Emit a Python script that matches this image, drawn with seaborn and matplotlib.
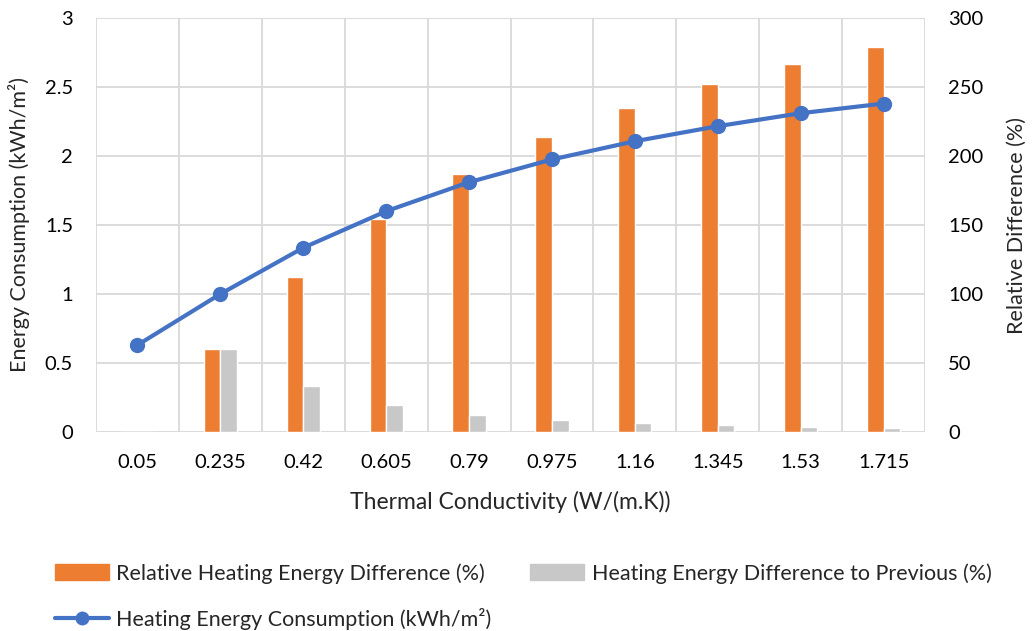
import numpy as np
import pandas as pd
import seaborn as sns
import matplotlib
matplotlib.use("Agg")
import matplotlib.pyplot as plt
from matplotlib.patches import Patch
from matplotlib.lines import Line2D

# data
conductivity = ["0.05", "0.235", "0.42", "0.605", "0.79", "0.975", "1.16", "1.345", "1.53", "1.715"]
energy = [0.63, 1.00, 1.335, 1.60, 1.81, 1.975, 2.107, 2.216, 2.31, 2.38]
relative_diff = [0, 60, 112.5, 154.7, 187, 214, 235, 252.5, 267, 279]
diff_prev = [0, 60, 33, 19.6, 12.3, 8.7, 6.3, 4.8, 3.9, 2.9]

rel_name = "Relative Heating Energy Difference (%)"
prev_name = "Heating Energy Difference to Previous (%)"
line_name = "Heating Energy Consumption (kWh/m²)"

orange = "#ED7D31"
gray = "#C8C8C8"
blue = "#4472C4"
grid_c = "#D9D9D9"

sns.set_style("white")
plt.rcParams["font.family"] = ["Lato", "DejaVu Sans"]

df = pd.DataFrame({
    "k": conductivity * 2,
    "val": relative_diff + diff_prev,
    "series": [rel_name] * len(conductivity) + [prev_name] * len(conductivity),
})

fig = plt.figure(figsize=(10.32, 6.31), dpi=100)
ax = fig.add_axes([96 / 1032, 1 - 432 / 631, (925 - 96) / 1032, (432 - 18) / 631])
ax2 = ax.twinx()

# bars on right axis
sns.barplot(data=df, x="k", y="val", hue="series", order=conductivity,
            hue_order=[rel_name, prev_name], palette=[orange, gray],
            width=0.4, saturation=1, ax=ax2, legend=False)
ax2.xaxis.set_visible(True)
ax2.set_ylim(0, 300)
ax2.set_yticks(np.arange(0, 301, 50))
ax2.set_axisbelow(True)
ax2.set_xticks(np.arange(-0.5, 10, 1), minor=True)
ax2.grid(True, which="major", axis="y", color=grid_c, lw=1.3)
ax2.grid(True, which="minor", axis="x", color=grid_c, lw=1.3)
ax2.grid(False, which="major", axis="x")
ax2.set_ylabel("Relative Difference (%)", fontsize=15.5)
ax2.set_xlabel("")

# line on left axis, drawn above bars
ax.set_zorder(ax2.get_zorder() + 1)
ax.patch.set_visible(False)
sns.lineplot(x=np.arange(len(conductivity)), y=energy, color=blue, lw=3.0,
             marker="o", markersize=11, markeredgewidth=0, ax=ax)
ax.set_ylim(0, 3)
ax.set_yticks(np.arange(0, 3.01, 0.5))
ax.set_yticklabels(["0", "0.5", "1", "1.5", "2", "2.5", "3"])
ax.set_xlim(-0.5, 9.5)
ax.set_xticks(np.arange(len(conductivity)))
ax.set_xticklabels(conductivity)
ax.set_ylabel("Energy Consumption (kWh/m²)", fontsize=15.5)
ax.set_xlabel("Thermal Conductivity (W/(m.K))", fontsize=16.5)
ax.yaxis.set_label_coords(-0.0796, 0.5)
ax2.yaxis.set_label_coords(1.099, 0.5)
ax.xaxis.set_label_coords(0.5, -0.143)

for a in (ax, ax2):
    for s in a.spines.values():
        s.set_visible(False)
    a.tick_params(axis="both", which="both", length=0, labelsize=14.5, colors="black")
ax2.tick_params(axis="x", which="both", labelbottom=False)
ax.tick_params(axis="x", pad=16)
ax.tick_params(axis="y", pad=16.5)
ax2.tick_params(axis="y", pad=16.5)

handles = [Patch(color=orange), Line2D([], [], color=blue, lw=3.0, marker="o", markersize=9),
           Patch(color=gray)]
labels = [rel_name, line_name, prev_name]
fig.legend(handles, labels, loc="upper left", bbox_to_anchor=(55 / 1032, 1 - 563 / 631), ncol=2,
           frameon=False, fontsize=15.5, handlelength=2.5, handleheight=0.8,
           handletextpad=0.35, columnspacing=1.8, labelspacing=1.15,
           borderpad=0, borderaxespad=0)

fig.savefig("out.png", dpi=100)
